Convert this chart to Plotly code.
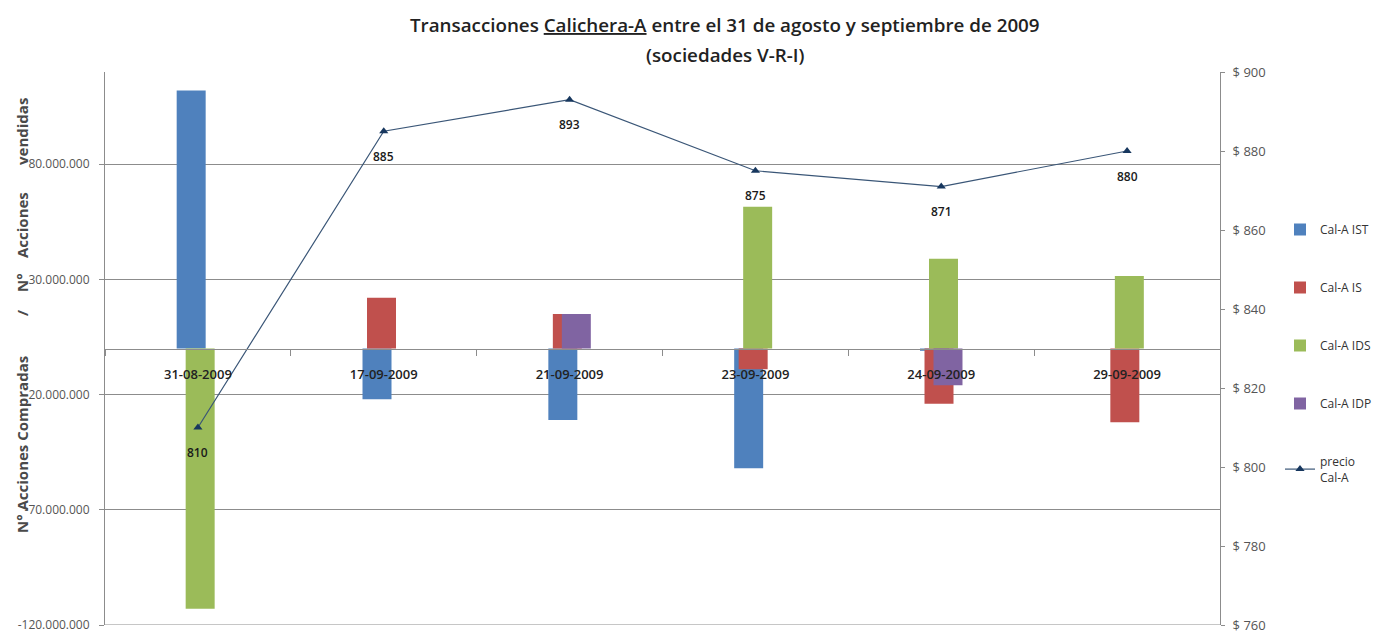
import plotly.graph_objects as go

# ---------------- data ----------------
fechas = ["31-08-2009", "17-09-2009", "21-09-2009", "23-09-2009", "24-09-2009", "29-09-2009"]
cal_a_ist = [112_000_000, -22_000_000, -31_000_000, -52_000_000, -1_000_000, 0]
cal_a_is = [0, 22_000_000, 15_000_000, -9_000_000, -24_000_000, -32_000_000]
cal_a_ids = [-113_000_000, 0, 0, 61_500_000, 39_000_000, 31_500_000]
cal_a_idp = [0, 0, 15_000_000, 0, -16_000_000, 0]
precio = [810, 885, 893, 875, 871, 880]

left_tickvals = [-120_000_000, -70_000_000, -20_000_000, 30_000_000, 80_000_000]
left_ticktext = ["-120.000.000", "-70.000.000", "-20.000.000", "30.000.000", "80.000.000"]
right_tickvals = [760, 780, 800, 820, 840, 860, 880, 900]
right_ticktext = ["$ 760", "$ 780", "$ 800", "$ 820", "$ 840", "$ 860", "$ 880", "$ 900"]

series = [
    ("Cal-A IST", cal_a_ist, "#4F81BD"),
    ("Cal-A IS", cal_a_is, "#C0504D"),
    ("Cal-A IDS", cal_a_ids, "#9BBB59"),
    ("Cal-A IDP", cal_a_idp, "#8064A2"),
]

# ---------------- layout geometry ----------------
W, H = 1385, 633
ML, MR, MT, MB = 105, 165, 72, 8
PW, PH = W - ML - MR, H - MT - MB


def px_x(x):
    return (x - ML) / PW


def px_y(y):
    return (H - MB - y) / PH


FONT = "Open Sans"
GRID = "#8c8c8c"
fig = go.Figure()

bar_w = 0.156
step = 0.0242
for k, (name, vals, col) in enumerate(series):
    fig.add_trace(go.Bar(
        x=fechas, y=vals, name=name, marker=dict(color=col, line=dict(width=0)),
        width=bar_w, offset=-bar_w / 2 - 1.5 * step + k * step,
        legendgroup=name, yaxis="y",
    ))

fig.add_trace(go.Scatter(
    x=fechas, y=precio, name="precio<br>Cal-A", yaxis="y2",
    mode="lines+markers",
    line=dict(color="#3A5677", width=1.2),
    marker=dict(symbol="triangle-up", size=8, color="#17375E"),
    legendgroup="precio",
))

for f, p in zip(fechas, precio):
    fig.add_annotation(x=f, y=p, yref="y2", text=str(p), showarrow=False,
                       yshift=-25, font=dict(family=FONT, size=12, color="#1a1a1a", weight=600))

# bottom gridline (at the axis minimum, which plotly clips)
fig.add_shape(type="line", xref="paper", yref="y", x0=0, x1=1,
              y0=left_tickvals[0], y1=left_tickvals[0], line=dict(color=GRID, width=1), layer="below")

# titles
title_font = dict(family=FONT, size=18.8, color="#222", weight=600)
fig.add_annotation(xref="paper", yref="paper", x=px_x(725), y=px_y(25),
                   xanchor="center", yanchor="middle",
                   text="Transacciones <u>Calichera-A</u> entre el 31 de agosto y septiembre de 2009",
                   showarrow=False, font=title_font)
fig.add_annotation(xref="paper", yref="paper", x=px_x(725), y=px_y(55),
                   xanchor="center", yanchor="middle",
                   text="(sociedades V-R-I)", showarrow=False, font=title_font)

# left axis title pieces
axis_font = dict(family=FONT, size=15, color="#4a4a4a", weight=700)
for txt, yc in [("N° Acciones Compradas", 445), ("/", 313), ("N°", 283),
                ("Acciones", 225), ("vendidas", 132)]:
    fig.add_annotation(xref="paper", yref="paper", x=px_x(22), y=px_y(yc), text=txt,
                       xanchor="center", yanchor="middle",
                       textangle=-90, showarrow=False, font=axis_font)

fig.update_layout(
    width=W, height=H,
    margin=dict(l=ML, r=MR, t=MT, b=MB),
    barmode="overlay",
    plot_bgcolor="white", paper_bgcolor="white",
    font=dict(family=FONT, color="#333"),
    showlegend=True,
    legend=dict(x=px_x(1280), y=px_y(215), xanchor="left", yanchor="top",
                font=dict(family=FONT, size=12, color="#333"),
                tracegroupgap=39, traceorder="grouped", bgcolor="rgba(0,0,0,0)",
                borderwidth=0),
    xaxis=dict(type="category", anchor="free", position=0.5, showgrid=False,
               showline=True, linecolor=GRID, linewidth=1,
               ticks="outside", tickson="boundaries", ticklen=6, tickcolor=GRID,
               ticklabelstandoff=14, automargin=False,
               tickfont=dict(family=FONT, size=13, color="#222", weight=600)),
    yaxis=dict(range=[-120_000_000, 120_000_000], tickvals=left_tickvals, ticktext=left_ticktext,
               showgrid=True, gridcolor=GRID, gridwidth=1, zeroline=False,
               showline=True, linecolor=GRID, ticks="outside", ticklen=5, tickcolor=GRID,
               ticklabelstandoff=7, automargin=False, ticklabeloverflow="allow",
               tickfont=dict(family=FONT, size=12, color="#555")),
    yaxis2=dict(range=[760, 900], tickvals=right_tickvals, ticktext=right_ticktext,
                overlaying="y", side="right", showgrid=False, zeroline=False,
                showline=True, linecolor=GRID, ticks="outside", ticklen=4, tickcolor=GRID,
                ticklabelstandoff=5, automargin=False, ticklabeloverflow="allow",
                tickfont=dict(family=FONT, size=13, color="#555")),
)

fig.write_html("out.html", config={"displayModeBar": False},
               post_script="document.body.style.margin='0';")
